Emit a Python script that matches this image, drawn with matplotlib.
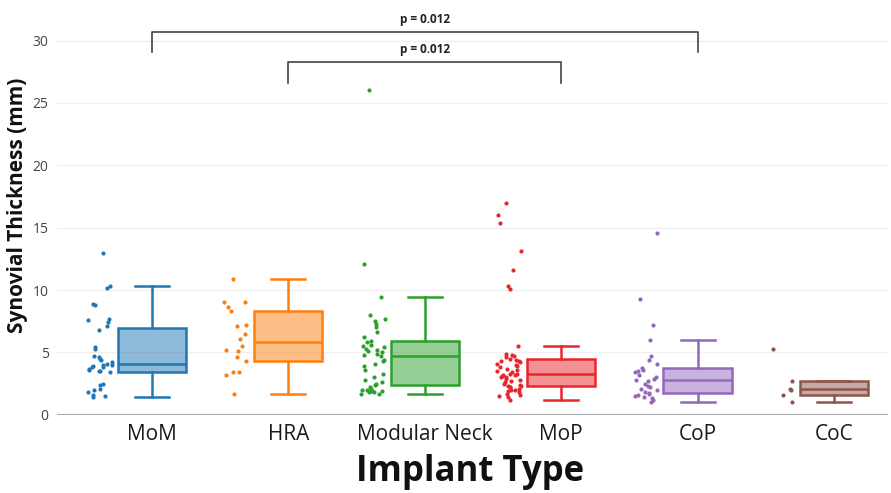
import numpy as np
import matplotlib
matplotlib.use("Agg")
import matplotlib.pyplot as plt

plt.rcParams['font.family'] = ['Open Sans', 'DejaVu Sans']

categories = ["MoM", "HRA", "Modular Neck", "MoP", "CoP", "CoC"]
colors = ["#1f77b4", "#ff7f0e", "#2ca02c", "#e8262b", "#9467bd", "#8c564b"]

mom = [13.0, 10.3, 10.2, 8.9, 8.8, 7.7, 7.6, 7.4, 7.1, 6.8, 5.4, 5.3, 4.7, 4.6,
       4.5, 4.4, 4.2, 4.1, 4.0, 4.0, 3.9, 3.8, 3.8, 3.7, 3.6, 3.5, 3.5, 3.4,
       2.5, 2.4, 2.1, 2.0, 1.8, 1.6, 1.5, 1.4]
hra = [10.9, 9.0, 9.0, 8.6, 8.3, 7.2, 7.1, 6.5, 6.1, 5.5, 5.2, 5.1, 4.6, 4.3,
       3.4, 3.4, 3.2, 1.7]
modular_neck = [26.0, 12.1, 9.4, 8.0, 7.7, 7.5, 7.3, 7.0, 6.6, 6.2, 5.9, 5.8,
                5.6, 5.5, 5.4, 5.3, 5.2, 5.1, 5.0, 4.9, 4.8, 4.7, 4.4, 4.3,
                4.1, 3.9, 3.6, 3.3, 3.0, 2.8, 2.6, 2.5, 2.4, 2.2, 2.1, 2.0,
                2.0, 1.9, 1.9, 1.8, 1.8, 1.7, 1.7]
mop = [17.0, 16.0, 15.4, 13.1, 11.6, 10.3, 10.1, 5.5, 4.9, 4.8, 4.7, 4.6, 4.5,
       4.4, 4.3, 4.3, 4.2, 4.1, 4.0, 3.9, 3.8, 3.7, 3.6, 3.5, 3.4, 3.3, 3.3,
       3.2, 3.2, 3.1, 3.0, 3.0, 2.9, 2.8, 2.7, 2.6, 2.5, 2.4, 2.3, 2.3, 2.2,
       2.2, 2.1, 2.0, 2.0, 1.9, 1.8, 1.7, 1.6, 1.5, 1.4, 1.2]
cop = [14.6, 9.3, 7.2, 6.0, 4.7, 4.4, 4.1, 3.75, 3.6, 3.5, 3.4, 3.2, 3.0, 2.9,
       2.8, 2.7, 2.5, 2.3, 2.2, 2.1, 2.0, 1.8, 1.75, 1.7, 1.6, 1.5, 1.4, 1.3,
       1.2, 1.0]
coc = [5.3, 2.7, 2.1, 2.0, 1.6, 1.0]

groups = [mom, hra, modular_neck, mop, cop, coc]

# significance brackets: (left group, right group, p label)
brackets = [(0, 4, "p = 0.012"), (1, 3, "p = 0.012")]
bracket_levels = [(30.7, 29.1), (28.3, 26.6)]


def box_stats(values, label):
    # quartiles by the "exclusive" (hinge) method
    v = np.sort(np.asarray(values, dtype=float))
    n = len(v)
    half = n // 2
    q1 = np.median(v[:half])
    q3 = np.median(v[-half:])
    med = np.median(v)
    iqr = q3 - q1
    lo = v[v >= q1 - 1.5 * iqr].min()
    hi = v[v <= q3 + 1.5 * iqr].max()
    return dict(label=label, med=med, q1=q1, q3=q3, whislo=lo, whishi=hi, fliers=[])


fig = plt.figure(figsize=(8.91, 4.93), dpi=100)
px = 12.47
ax = fig.add_axes([57 / 891, (493 - 414.7) / 493, (888 - 57) / 891, 32.5 * px / 493])

rng = np.random.default_rng(7)
for i, (vals, col) in enumerate(zip(groups, colors)):
    st = box_stats(vals, categories[i])
    ax.bxp([st], positions=[i], widths=0.5, patch_artist=True, showfliers=False,
           boxprops=dict(facecolor=matplotlib.colors.to_rgba(col, 0.5), edgecolor=col, linewidth=1.8),
           medianprops=dict(color=col, linewidth=1.8),
           whiskerprops=dict(color=col, linewidth=1.8),
           capprops=dict(color=col, linewidth=1.8), capwidths=0.25, zorder=3)
    xs = i - 0.38 + rng.uniform(-0.09, 0.09, len(vals))
    ax.scatter(xs, vals, s=9, color=col, linewidths=0, zorder=4)

for (a, b, txt), (top, leg) in zip(brackets, bracket_levels):
    ax.plot([a, a, b, b], [leg, top, top, leg], color="#444444", lw=1.2, clip_on=False, zorder=5)
    ax.text((a + b) / 2, top + 0.45, txt, ha="center", va="bottom", fontsize=8.5,
            fontweight="bold", color="#222222")

ax.set_xlim(-0.696, 5.396)
ax.set_ylim(0, 32.5)
ax.set_yticks([0, 5, 10, 15, 20, 25, 30])
ax.set_xticks(range(len(categories)))
ax.set_xticklabels(categories, fontsize=15, color="#1a1a1a")
ax.tick_params(axis="y", labelsize=10, labelcolor="#444444", length=0, pad=6)
ax.tick_params(axis="x", length=0, pad=7)
ax.yaxis.grid(True, color="#f0f0f0", lw=1)
ax.set_axisbelow(True)
for s in ax.spines.values():
    s.set_visible(False)
ax.axhline(0, color="#aaaaaa", lw=1.6, zorder=2)

fig.text(18 / 891, 1 - 205 / 493, "Synovial Thickness (mm)", rotation=90, ha="center",
         va="center", fontsize=15, fontweight="bold", color="#111111")
fig.text(470 / 891, 1 - 472 / 493, "Implant Type", ha="center", va="center",
         fontsize=25, fontweight="bold", color="#111111")

fig.savefig("out.png", dpi=100)
